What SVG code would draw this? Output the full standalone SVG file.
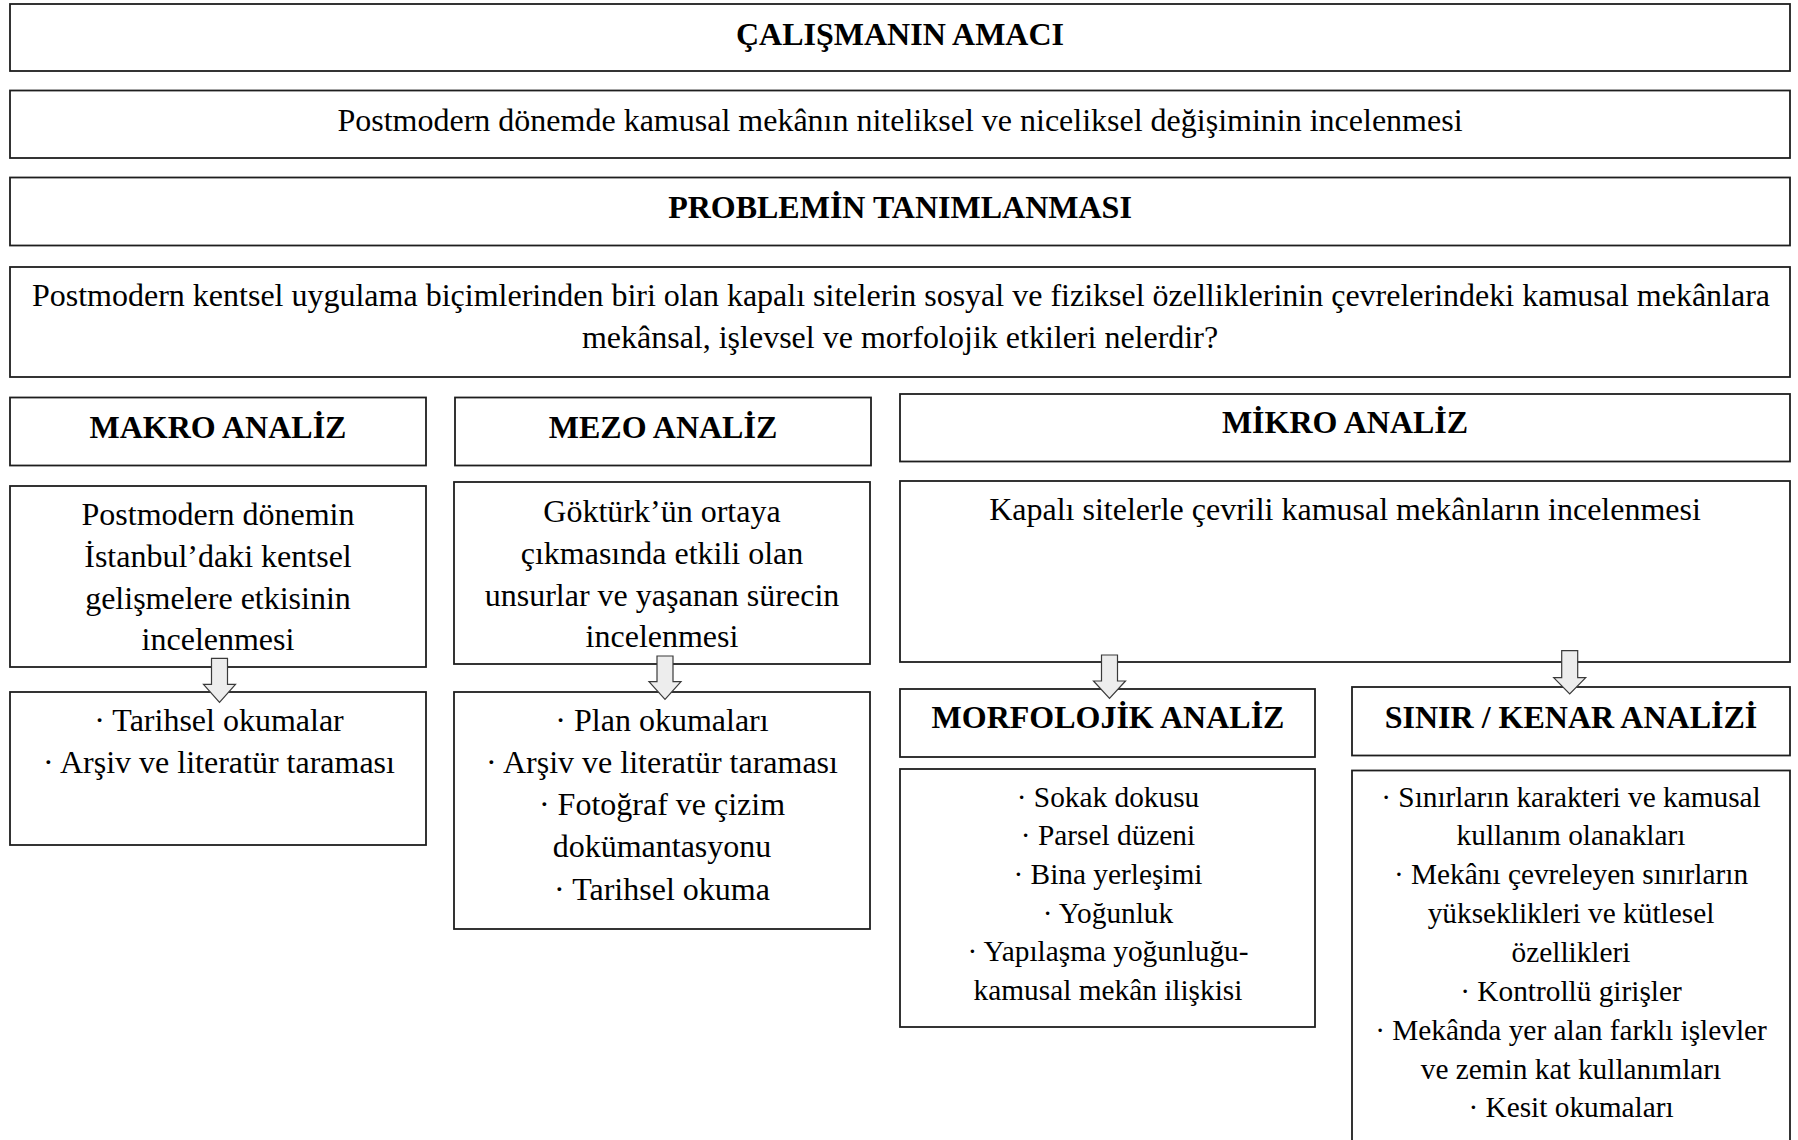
<svg xmlns="http://www.w3.org/2000/svg" width="1798" height="1140" viewBox="0 0 1798 1140">
<style>
.box{fill:#ffffff;stroke:#1e1e1e;stroke-width:1.8}
.t{font-family:"Liberation Serif","Times New Roman",serif;font-size:32px;fill:#000;text-anchor:middle}
.b{font-weight:bold}
.s{font-size:29.33px}
.arr{fill:#ededed;stroke:#3a3a3a;stroke-width:1.2;stroke-linejoin:miter}
</style>
<rect x="0" y="0" width="1798" height="1140" fill="#ffffff"/>

<g id="amac-baslik">
<rect class="box" x="10" y="4" width="1780" height="67"/>
<text class="t b" x="900" y="45">ÇALIŞMANIN AMACI</text>
</g>
<g id="amac">
<rect class="box" x="10" y="90.5" width="1780" height="67.5"/>
<text class="t" x="900" y="131">Postmodern dönemde kamusal mekânın niteliksel ve niceliksel değişiminin incelenmesi</text>
</g>
<g id="problem-baslik">
<rect class="box" x="10" y="177.5" width="1780" height="68"/>
<text class="t b" x="900" y="218">PROBLEMİN TANIMLANMASI</text>
</g>
<g id="problem">
<rect class="box" x="10" y="267" width="1780" height="110"/>
<text class="t" x="901" y="305.5">Postmodern kentsel uygulama biçimlerinden biri olan kapalı sitelerin sosyal ve fiziksel özelliklerinin çevrelerindeki kamusal mekânlara</text>
<text class="t" x="900" y="347.5">mekânsal, işlevsel ve morfolojik etkileri nelerdir?</text>
</g>

<g id="makro-baslik">
<rect class="box" x="10" y="397.5" width="416" height="68"/>
<text class="t b" x="218" y="438">MAKRO ANALİZ</text>
</g>
<g id="mezo-baslik">
<rect class="box" x="455" y="397.5" width="416" height="68"/>
<text class="t b" x="663" y="438">MEZO ANALİZ</text>
</g>
<g id="mikro-baslik">
<rect class="box" x="900" y="394" width="890" height="67.5"/>
<text class="t b" x="1345" y="433">MİKRO ANALİZ</text>
</g>

<g id="makro">
<rect class="box" x="10" y="486" width="416" height="181"/>
<text class="t" x="218" y="524.5">Postmodern dönemin</text>
<text class="t" x="218" y="566.5">İstanbul’daki kentsel</text>
<text class="t" x="218" y="608.5">gelişmelere etkisinin</text>
<text class="t" x="218" y="650">incelenmesi</text>
</g>
<g id="mezo">
<rect class="box" x="454" y="482" width="416" height="182"/>
<text class="t" x="662" y="521.5">Göktürk’ün ortaya</text>
<text class="t" x="662" y="563.5">çıkmasında etkili olan</text>
<text class="t" x="662" y="605.5">unsurlar ve yaşanan sürecin</text>
<text class="t" x="662" y="647">incelenmesi</text>
</g>
<g id="mikro">
<rect class="box" x="900" y="481" width="890" height="181"/>
<text class="t" x="1345" y="520">Kapalı sitelerle çevrili kamusal mekânların incelenmesi</text>
</g>

<g id="makro-yontem">
<rect class="box" x="10" y="692" width="416" height="153"/>
<text class="t" x="219" y="730.5">· Tarihsel okumalar</text>
<text class="t" x="219" y="773">· Arşiv ve literatür taraması</text>
</g>
<g id="mezo-yontem">
<rect class="box" x="454" y="692" width="416" height="237"/>
<text class="t" x="662" y="730.5">· Plan okumaları</text>
<text class="t" x="662" y="773">· Arşiv ve literatür taraması</text>
<text class="t" x="662" y="815">· Fotoğraf ve çizim</text>
<text class="t" x="662" y="857">dokümantasyonu</text>
<text class="t" x="662" y="899.5">· Tarihsel okuma</text>
</g>

<g id="morfolojik-baslik">
<rect class="box" x="900" y="689" width="415" height="68"/>
<text class="t b" x="1108" y="728">MORFOLOJİK ANALİZ</text>
</g>
<g id="sinir-baslik">
<rect class="box" x="1352" y="687" width="438" height="68.5"/>
<text class="t b" x="1571" y="727.5">SINIR / KENAR ANALİZİ</text>
</g>

<g id="morfolojik">
<rect class="box" x="900" y="769" width="415" height="258"/>
<text class="t s" x="1108" y="806.5">· Sokak dokusu</text>
<text class="t s" x="1108" y="845">· Parsel düzeni</text>
<text class="t s" x="1108" y="883.5">· Bina yerleşimi</text>
<text class="t s" x="1108" y="922.5">· Yoğunluk</text>
<text class="t s" x="1108" y="961">· Yapılaşma yoğunluğu-</text>
<text class="t s" x="1108" y="1000">kamusal mekân ilişkisi</text>
</g>
<g id="sinir">
<rect class="box" x="1352" y="770.5" width="438" height="380"/>
<text class="t s" x="1571" y="806.5">· Sınırların karakteri ve kamusal</text>
<text class="t s" x="1571" y="845">kullanım olanakları</text>
<text class="t s" x="1571" y="884">· Mekânı çevreleyen sınırların</text>
<text class="t s" x="1571" y="923">yükseklikleri ve kütlesel</text>
<text class="t s" x="1571" y="962">özellikleri</text>
<text class="t s" x="1571" y="1000.5">· Kontrollü girişler</text>
<text class="t s" x="1571" y="1040">· Mekânda yer alan farklı işlevler</text>
<text class="t s" x="1571" y="1078.5">ve zemin kat kullanımları</text>
<text class="t s" x="1571" y="1117">· Kesit okumaları</text>
</g>

<g id="connectors">
<polygon class="arr" points="211.5,658.3 227.5,658.3 227.5,684.3 235.5,684.3 219.5,702.3 203.5,684.3 211.5,684.3"/>
<polygon class="arr" points="657,656 673,656 673,681.7 681,681.7 665,699.3 649,681.7 657,681.7"/>
<polygon class="arr" points="1101.5,655 1117.5,655 1117.5,681 1125.5,681 1109.5,698.3 1093.5,681 1101.5,681"/>
<polygon class="arr" points="1561.7,650.7 1577.7,650.7 1577.7,677.7 1585.7,677.7 1569.7,694 1553.7,677.7 1561.7,677.7"/>
</g>
</svg>
